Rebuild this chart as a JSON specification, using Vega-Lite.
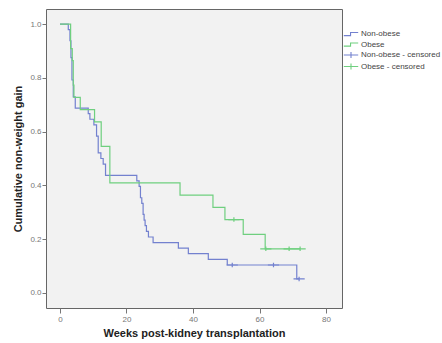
{
  "$schema": "https://vega.github.io/schema/vega-lite/v6.json",
  "autosize": {"type": "none"},
  "padding": {"left": 46, "top": 9, "right": 100, "bottom": 35},
  "width": 296,
  "height": 299,
  "background": "white",
  "datasets": {
    "curves": [
      {"series": "Non-obese", "t": 0, "s": 1.0},
      {"series": "Non-obese", "t": 2.5, "s": 0.979},
      {"series": "Non-obese", "t": 3.0, "s": 0.938},
      {"series": "Non-obese", "t": 3.3, "s": 0.875},
      {"series": "Non-obese", "t": 3.6, "s": 0.792},
      {"series": "Non-obese", "t": 4.0, "s": 0.729},
      {"series": "Non-obese", "t": 4.6, "s": 0.6875},
      {"series": "Non-obese", "t": 8.5, "s": 0.667},
      {"series": "Non-obese", "t": 9.0, "s": 0.646},
      {"series": "Non-obese", "t": 10.2, "s": 0.625},
      {"series": "Non-obese", "t": 11.0, "s": 0.583},
      {"series": "Non-obese", "t": 11.5, "s": 0.521},
      {"series": "Non-obese", "t": 12.3, "s": 0.5},
      {"series": "Non-obese", "t": 13.0, "s": 0.479},
      {"series": "Non-obese", "t": 13.7, "s": 0.4375},
      {"series": "Non-obese", "t": 23.1, "s": 0.417},
      {"series": "Non-obese", "t": 23.8, "s": 0.396},
      {"series": "Non-obese", "t": 24.2, "s": 0.354},
      {"series": "Non-obese", "t": 24.6, "s": 0.333},
      {"series": "Non-obese", "t": 25.0, "s": 0.292},
      {"series": "Non-obese", "t": 25.3, "s": 0.271},
      {"series": "Non-obese", "t": 25.6, "s": 0.25},
      {"series": "Non-obese", "t": 26.0, "s": 0.229},
      {"series": "Non-obese", "t": 26.6, "s": 0.208},
      {"series": "Non-obese", "t": 28.0, "s": 0.1875},
      {"series": "Non-obese", "t": 35.6, "s": 0.167},
      {"series": "Non-obese", "t": 38.6, "s": 0.146},
      {"series": "Non-obese", "t": 44.6, "s": 0.125},
      {"series": "Non-obese", "t": 50.3, "s": 0.104},
      {"series": "Non-obese", "t": 71.2, "s": 0.052},
      {"series": "Non-obese", "t": 71.9, "s": 0.052},
      {"series": "Obese", "t": 0, "s": 1.0},
      {"series": "Obese", "t": 3.2, "s": 0.909},
      {"series": "Obese", "t": 3.7, "s": 0.864},
      {"series": "Obese", "t": 4.0, "s": 0.773},
      {"series": "Obese", "t": 4.2, "s": 0.727},
      {"series": "Obese", "t": 6.1, "s": 0.682},
      {"series": "Obese", "t": 10.4, "s": 0.636},
      {"series": "Obese", "t": 12.4, "s": 0.545},
      {"series": "Obese", "t": 15.0, "s": 0.409},
      {"series": "Obese", "t": 36.1, "s": 0.364},
      {"series": "Obese", "t": 46.0, "s": 0.318},
      {"series": "Obese", "t": 49.6, "s": 0.273},
      {"series": "Obese", "t": 55.1, "s": 0.218},
      {"series": "Obese", "t": 61.7, "s": 0.164},
      {"series": "Obese", "t": 72.2, "s": 0.164}
    ],
    "censored": [
      {"series": "Non-obese - censored", "t": 51.8, "s": 0.104},
      {"series": "Non-obese - censored", "t": 64.2, "s": 0.104},
      {"series": "Non-obese - censored", "t": 71.9, "s": 0.052},
      {"series": "Obese - censored", "t": 52.3, "s": 0.273},
      {"series": "Obese - censored", "t": 61.9, "s": 0.164},
      {"series": "Obese - censored", "t": 68.9, "s": 0.164},
      {"series": "Obese - censored", "t": 72.2, "s": 0.164}
    ]
  },
  "config": {
    "view": {"stroke": "#666666", "strokeWidth": 1, "fill": "#f2f2f2"},
    "font": "Liberation Sans",
    "axis": {
      "grid": false,
      "domain": false,
      "tickColor": "#777777",
      "labelColor": "#777777",
      "labelFontSize": 8,
      "labelFont": "Liberation Sans",
      "titleFont": "Liberation Sans",
      "titleFontSize": 11,
      "titleFontWeight": "bold",
      "titleColor": "#222222"
    },
    "legend": {
      "labelFont": "Liberation Sans",
      "labelFontSize": 8,
      "labelColor": "#444444"
    }
  },
  "layer": [
    {
      "data": {"name": "curves"},
      "mark": {"type": "line", "interpolate": "step-after", "strokeWidth": 1.2},
      "encoding": {
        "x": {
          "field": "t", "type": "quantitative",
          "scale": {"domain": [-4.2, 84.8], "nice": false, "zero": false},
          "axis": {"values": [0, 20, 40, 60, 80], "tickSize": 5, "labelPadding": 2, "title": "Weeks post-kidney transplantation", "titlePadding": 4}
        },
        "y": {
          "field": "s", "type": "quantitative",
          "scale": {"domain": [-0.056, 1.056], "nice": false, "zero": false},
          "axis": {"values": [0, 0.2, 0.4, 0.6, 0.8, 1.0], "format": ".1f", "tickSize": 4, "labelPadding": 1, "title": "Cumulative non-weight gain", "titlePadding": 6}
        },
        "color": {
          "field": "series", "type": "nominal",
          "scale": {
            "domain": ["Non-obese", "Obese", "Non-obese - censored", "Obese - censored"],
            "range": ["#7381cf", "#6fcf7f", "#7381cf", "#6fcf7f"]
          },
          "legend": {
            "title": null,
            "orient": "none",
            "legendX": 299.5,
            "legendY": 19.5,
            "symbolSize": 81,
            "symbolStrokeWidth": 1.1,
            "rowPadding": 0.5,
            "labelOffset": 4.5,
            "symbolOffset": 0,
            "padding": 0
          }
        }
      }
    },
    {
      "data": {"name": "censored"},
      "mark": {"type": "point", "filled": false, "size": 49, "strokeWidth": 1.2, "opacity": 1},
      "encoding": {
        "x": {"field": "t", "type": "quantitative"},
        "y": {"field": "s", "type": "quantitative"},
        "color": {"field": "series", "type": "nominal"},
        "shape": {
          "field": "series", "type": "nominal",
          "scale": {
            "domain": ["Non-obese", "Obese", "Non-obese - censored", "Obese - censored"],
            "range": ["M-1.6,0.35H-0.1V-0.35H1.6", "M-1.6,0.35H-0.1V-0.35H1.6", "M-1.6,0H1.6M0,-0.65V0.65", "M-1.6,0H1.6M0,-0.65V0.65"]
          },
          "legend": {
            "title": null,
            "orient": "none",
            "legendX": 299.5,
            "legendY": 19.5,
            "symbolSize": 81,
            "symbolStrokeWidth": 1.1,
            "rowPadding": 0.5,
            "labelOffset": 4.5,
            "symbolOffset": 0,
            "padding": 0
          }
        }
      }
    }
  ]
}
